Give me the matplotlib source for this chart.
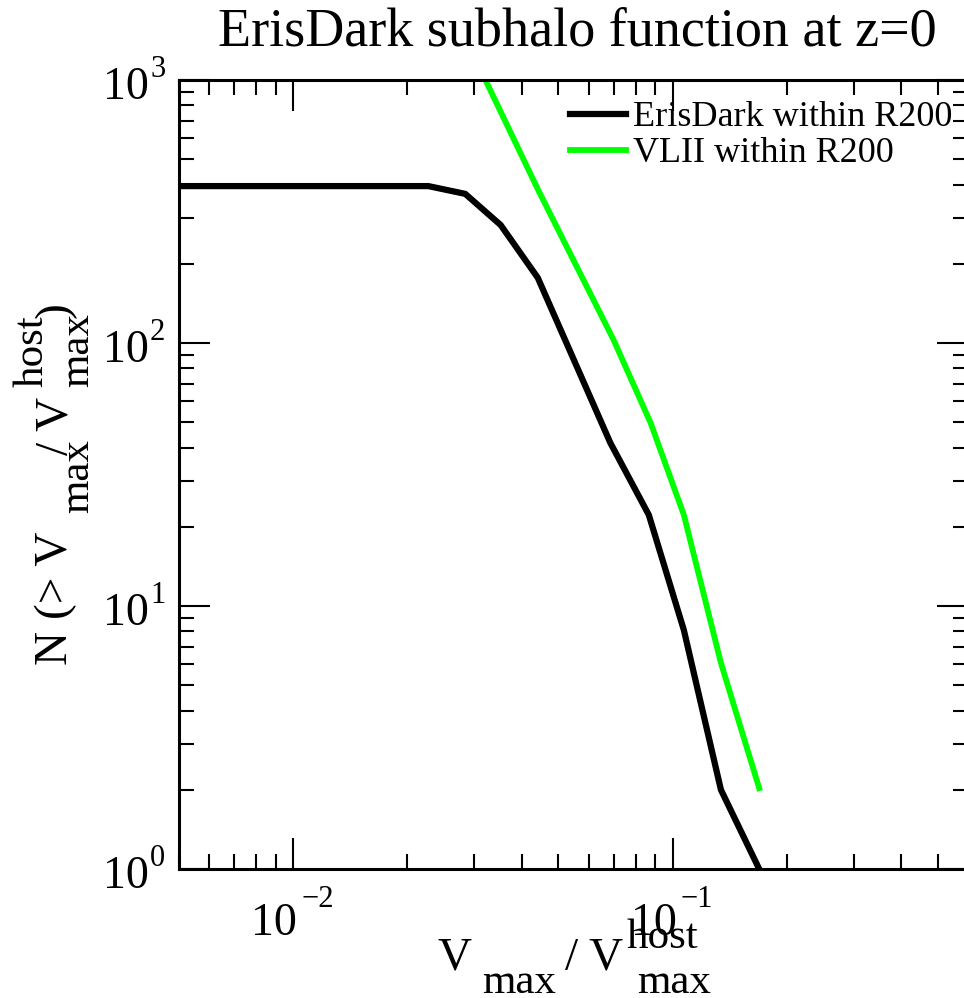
import matplotlib
matplotlib.use('Agg')
import matplotlib.pyplot as plt
from matplotlib.transforms import offset_copy
from matplotlib.ticker import LogLocator, NullFormatter

plt.rcParams['font.family'] = ['Liberation Serif', 'DejaVu Serif']

# ---- data ----
eris_x = [0.005, 0.0227, 0.0284, 0.0352, 0.0441, 0.0685, 0.0865, 0.107, 0.134, 0.169]
eris_n = [395, 395, 369, 281, 177, 41.7, 22.2, 8.1, 2.0, 1.0]
vl2_x = [0.0321, 0.0442, 0.0698, 0.0875, 0.107, 0.134, 0.169]
vl2_n = [1000, 382, 103, 49.6, 22.2, 6.07, 2.03]
series_labels = ["ErisDark within R200", "VLII within R200"]
title = "ErisDark subhalo function at z=0"
x_major = [0.01, 0.1]
x_exp = ["\u22122", "\u22121"]
y_major = [1, 10, 100, 1000]
y_exp = ["0", "1", "2", "3"]

W, H = 964, 998
fig = plt.figure(figsize=(W / 100, H / 100), dpi=100)
L, R, T, B = 179, 968, 80, 869
ax = fig.add_axes([L / W, 1 - B / H, (R - L) / W, (B - T) / H])

ax.plot(eris_x, eris_n, color='black', lw=4.5, solid_joinstyle='miter', label=series_labels[0])
ax.plot(vl2_x, vl2_n, color='#00ff00', lw=4.2, solid_joinstyle='miter', label=series_labels[1])

ax.set_xscale('log')
ax.set_yscale('log')
ax.set_xlim(0.005, 0.6)
ax.set_ylim(1, 1000)
ax.xaxis.set_major_locator(LogLocator(base=10, numticks=10))
ax.xaxis.set_minor_locator(LogLocator(base=10, subs=range(2, 10), numticks=20))
ax.yaxis.set_major_locator(LogLocator(base=10, numticks=10))
ax.yaxis.set_minor_locator(LogLocator(base=10, subs=range(2, 10), numticks=20))
ax.xaxis.set_major_formatter(NullFormatter())
ax.xaxis.set_minor_formatter(NullFormatter())
ax.yaxis.set_major_formatter(NullFormatter())
ax.yaxis.set_minor_formatter(NullFormatter())
ax.tick_params(which='both', direction='in', top=True, right=True, width=1.5, color='black')
ax.tick_params(which='major', length=22)
ax.tick_params(which='minor', length=11)
for s in ax.spines.values():
    s.set_linewidth(2.2)

# tick labels (xmgrace style 10^n)
xt = ax.get_xaxis_transform()
for v, e in zip(x_major, x_exp):
    ax.text(v, 0, "10", transform=offset_copy(xt, fig=fig, x=4, y=-66, units='dots'),
            ha='right', va='baseline', fontsize=33)
    ax.text(v, 0, e, transform=offset_copy(xt, fig=fig, x=8, y=-38, units='dots'),
            ha='left', va='baseline', fontsize=22)
yt = ax.get_yaxis_transform()
for v, e in zip(y_major, y_exp):
    ax.text(0, v, "10", transform=offset_copy(yt, fig=fig, x=-30, y=-19, units='dots'),
            ha='right', va='baseline', fontsize=33)
    ax.text(0, v, e, transform=offset_copy(yt, fig=fig, x=-29, y=3, units='dots'),
            ha='left', va='baseline', fontsize=22)

def ftxt(px, py, s, size, **kw):
    fig.text(px / W, 1 - py / H, s, fontsize=size, **kw)

# title
ftxt(577, 46, title, 39, ha='center', va='baseline')

# x label pieces
ftxt(438, 970, "V", 34, ha='left', va='baseline')
ftxt(482, 993, "max", 31, ha='left', va='baseline')
ftxt(565, 970, "/ V", 34, ha='left', va='baseline')
ftxt(627, 948, "host", 31, ha='left', va='baseline')
ftxt(637, 993, "max", 31, ha='left', va='baseline')

# y label pieces (rotated)
rk = dict(rotation=90, rotation_mode='anchor', ha='left', va='baseline')
ftxt(67, 665, "N (> V", 34, **rk)
ftxt(88, 513, "max", 31, **rk)
ftxt(67, 455, "/ V", 34, **rk)
ftxt(43, 387, "host", 31, **rk)
ftxt(88, 387, "max", 31, **rk)
ftxt(67, 318, ")", 34, **rk)

ax.legend(loc='upper left', bbox_to_anchor=(570 / W, 1 - 101 / H), bbox_transform=fig.transFigure,
          frameon=False, fontsize=26, handlelength=1.55, handletextpad=0.2,
          labelspacing=0.08, borderpad=0, borderaxespad=0)

fig.savefig('out.png', dpi=100)
